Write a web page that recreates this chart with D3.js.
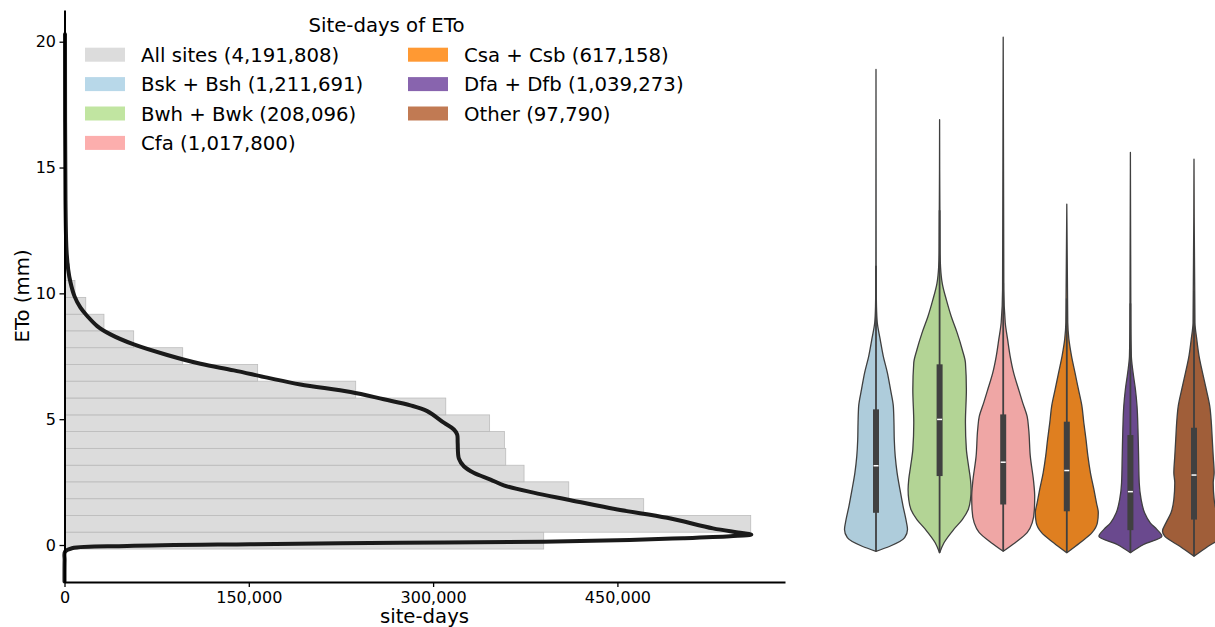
<!DOCTYPE html>
<html>
<head>
<meta charset="utf-8">
<script src="https://cdn.jsdelivr.net/npm/d3@7"></script>
<style>
  body { margin: 0; background: #fff; }
  svg { font-family: "DejaVu Sans", sans-serif; }
</style>
</head>
<body>
<div id="chart"></div>
<script>
/* histogram of all site-days: bin edges (mm) and counts */
var binLo = [-0.16, 0.51, 1.17, 1.84, 2.51, 3.17, 3.84, 4.51, 5.17, 5.84,
             6.51, 7.17, 7.84, 8.51, 9.17, 9.84, 10.51, 11.17, 11.84, 12.51,
             13.17, 13.84, 14.51, 15.17, 15.84, 16.51, 17.17, 17.84, 18.51, 19.17];
var binHi = [0.51, 1.17, 1.84, 2.51, 3.17, 3.84, 4.51, 5.17, 5.84, 6.51,
             7.17, 7.84, 8.51, 9.17, 9.84, 10.51, 11.17, 11.84, 12.51, 13.17,
             13.84, 14.51, 15.17, 15.84, 16.51, 17.17, 17.84, 18.51, 19.17, 19.84];
var binCounts = [390000, 558500, 471400, 410400, 374000, 359100, 358000, 346000, 310300, 237000,
                 157200, 96200, 56300, 32100, 17300, 8500, 4000, 1800, 800, 400,
                 200, 100, 60, 30, 20, 10, 5, 3, 2, 1];

/* black outline curve over the histogram */
var curveEto = [-1.45, -0.6, -0.27, -0.13, -0.04, 0.03, 0.09, 0.13, 0.20, 0.27, 0.35, 0.41,
                0.50, 0.66, 1.08, 1.41, 1.81, 2.08, 2.37, 2.60, 2.87, 3.13, 3.43, 4.06, 4.39,
                4.59, 4.86, 5.32, 5.55, 5.79, 6.08, 6.38, 6.65, 6.94, 7.20, 7.55, 7.97, 8.37,
                8.70, 9.10, 9.43, 9.89, 10.43, 10.95, 11.75, 13.7, 20.3];
var curveCount = [0, 100, 400, 6100, 51000, 151000, 273000, 389500, 460000, 503600, 541800, 559000,
                  548000, 527800, 490500, 450000, 409000, 381700, 357500, 346700, 333000, 325000, 321000, 320000, 319600,
                  316900, 308700, 295200, 281600, 259900, 232800, 192000, 165000, 137800, 110700, 83600, 56400, 37400,
                  26600, 18500, 13000, 8100, 4900, 3000, 1600, 800, 400];

/* climate groups */
var groups = ["Bsk + Bsh", "Bwh + Bwk", "Cfa", "Csa + Csb", "Dfa + Dfb", "Other"];
var groupCounts = [1211691, 208096, 1017800, 617158, 1039273, 97790];
var allSitesCount = 4191808;

/* violin shapes: ETo (mm) and relative half width */
var densityEto = [
  [-0.25, -0.05, 0.29, 0.62, 0.88, 1.54, 2.21, 2.87, 3.53, 4.19, 4.86, 5.52, 6.18, 6.85, 7.51, 8.19, 8.84, 9.49, 10.56, 18.9],
  [-0.31, 0.09, 0.62, 1.01, 1.41, 1.81, 2.21, 2.60, 3.13, 3.80, 4.86, 6.18, 7.24, 7.76, 8.42, 9.08, 9.72, 10.39, 11.05, 11.71, 16.9],
  [-0.25, 0.09, 0.49, 0.88, 1.41, 1.94, 2.47, 3.53, 4.59, 5.11, 5.65, 6.18, 6.85, 7.51, 8.17, 8.84, 10.17, 20.18],
  [-0.31, 0.09, 0.49, 0.88, 1.28, 1.68, 2.21, 2.87, 3.53, 4.19, 4.86, 5.52, 6.18, 6.85, 7.51, 8.19, 8.84, 13.54],
  [-0.31, 0.02, 0.35, 0.62, 0.88, 1.28, 1.81, 2.47, 3.53, 4.59, 5.52, 6.18, 6.85, 7.51, 8.84, 15.6],
  [-0.45, -0.05, 0.35, 0.55, 0.88, 1.28, 1.81, 2.47, 2.87, 3.53, 4.19, 4.86, 5.52, 6.18, 6.85, 7.51, 8.19, 8.84, 15.33]
];
var densityWidth = [
  [0, 0.44, 0.91, 1.0, 0.97, 0.86, 0.76, 0.67, 0.61, 0.58, 0.57, 0.55, 0.46, 0.36, 0.23, 0.13, 0.04, 0.015, 0.005, 0],
  [0, 0.14, 0.45, 0.72, 0.91, 0.98, 1.0, 0.98, 0.92, 0.85, 0.82, 0.85, 0.82, 0.72, 0.56, 0.37, 0.22, 0.085, 0.03, 0.015, 0],
  [0, 0.38, 0.76, 0.92, 0.99, 1.0, 0.97, 0.86, 0.81, 0.76, 0.62, 0.49, 0.33, 0.22, 0.14, 0.064, 0.02, 0],
  [0, 0.42, 0.80, 0.97, 1.0, 0.94, 0.86, 0.75, 0.67, 0.61, 0.54, 0.48, 0.37, 0.26, 0.15, 0.065, 0.03, 0],
  [0, 0.42, 1.0, 0.84, 0.63, 0.45, 0.34, 0.28, 0.26, 0.24, 0.21, 0.16, 0.085, 0.03, 0.015, 0],
  [0, 0.45, 0.93, 1.0, 0.89, 0.73, 0.64, 0.61, 0.64, 0.61, 0.58, 0.55, 0.50, 0.39, 0.27, 0.16, 0.086, 0.03, 0]
];

/* box statistics per group */
var mins    = [-0.25, -0.31, -0.25, -0.31, -0.31, -0.45];
var q1s     = [1.28, 2.74, 1.61, 1.34, 0.59, 1.01];
var medians = [3.15, 4.99, 3.29, 2.96, 2.12, 2.78];
var q3s     = [5.39, 7.18, 5.19, 4.90, 4.37, 4.66];
var whiskHi = [11.1, 13.3, 10.4, 9.8, 9.6, 10.1];

var xTicks = [0, 150000, 300000, 450000];
var yTicks = [0, 5, 10, 15, 20];

var palette = ["#a6cee3", "#b2df8a", "#fb9a99", "#ff7f00", "#6a3d9a", "#b15928"];

var W = 1215, H = 627;
var svg = d3.select("#chart").append("svg")
    .attr("width", W).attr("height", H);

var fmt = d3.format(",");

/* scales */
var y = d3.scaleLinear().domain([-1.47, 21.26]).range([582, 10]);
var x = d3.scaleLinear().domain([0, 586400]).range([64.5, 785]);

/* histogram bars */
svg.append("g").selectAll("rect")
    .data(binCounts)
    .join("rect")
    .attr("x", x(0))
    .attr("y", function(d, i) { return y(binHi[i]); })
    .attr("width", function(d) { return x(d) - x(0); })
    .attr("height", function(d, i) { return y(binLo[i]) - y(binHi[i]); })
    .attr("fill", "#d3d3d3")
    .attr("fill-opacity", 0.8)
    .attr("stroke", "#bcbcbc")
    .attr("stroke-width", 0.8);

/* outline curve */
var curvePts = curveEto.map(function(e, i) { return [curveCount[i], e]; });
svg.append("path")
    .datum(curvePts)
    .attr("fill", "none")
    .attr("stroke", "#1a1a1a")
    .attr("stroke-width", 4)
    .attr("stroke-linejoin", "round")
    .attr("stroke-linecap", "round")
    .attr("d", d3.line()
        .x(function(d) { return x(d[0]); })
        .y(function(d) { return y(d[1]); })
        .curve(d3.curveCatmullRom.alpha(0.5)));

/* axes */
var yAxis = svg.append("g")
    .attr("transform", "translate(64.5,0)")
    .call(d3.axisLeft(y).tickValues(yTicks).tickSize(5).tickSizeOuter(0).tickPadding(3.5));
var xAxis = svg.append("g")
    .attr("transform", "translate(0,582)")
    .call(d3.axisBottom(x).tickValues(xTicks).tickFormat(fmt).tickSize(5).tickSizeOuter(0).tickPadding(5));
[yAxis, xAxis].forEach(function(a) {
    a.attr("font-family", null).attr("font-size", null);
    a.select(".domain").attr("stroke", "#000").attr("stroke-width", 2);
    a.selectAll(".tick line").attr("stroke", "#000").attr("stroke-width", 1.3);
    a.selectAll(".tick text").attr("fill", "#000").style("font-size", "16px");
});

svg.append("text")
    .attr("transform", "translate(29,296) rotate(-90)")
    .attr("text-anchor", "middle")
    .style("font-size", "19.7px")
    .text("ETo (mm)");

svg.append("text")
    .attr("x", 424.5).attr("y", 623)
    .attr("text-anchor", "middle")
    .style("font-size", "19.7px")
    .text("site-days");

/* legend */
var legend = svg.append("g");
legend.append("text")
    .attr("x", 386.5).attr("y", 32)
    .attr("text-anchor", "middle")
    .style("font-size", "19.7px")
    .text("Site-days of ETo");

var legendLabels = ["All sites (" + fmt(allSitesCount) + ")"].concat(
    groups.map(function(g, i) { return g + " (" + fmt(groupCounts[i]) + ")"; }));
var legendColors = ["#d3d3d3"].concat(palette);

legendLabels.forEach(function(lab, i) {
    var col = i < 4 ? 0 : 1;
    var row = i < 4 ? i : i - 4;
    var bx = col === 0 ? 85 : 408;
    var cy = 54.7 + row * 29.4;
    legend.append("rect")
        .attr("x", bx).attr("y", cy - 7)
        .attr("width", 40).attr("height", 14)
        .attr("fill", legendColors[i])
        .attr("fill-opacity", 0.8);
    legend.append("text")
        .attr("x", bx + 56).attr("y", cy + 7.2)
        .style("font-size", "19.7px")
        .text(lab);
});

/* violins */
var vx = d3.scalePoint().domain(groups).range([876, 1194]);
var halfW = 31.5;

groups.forEach(function(g, i) {
    var cx = vx(g);
    var fill = d3.hsl(palette[i]);
    fill.s *= 0.75;
    var pts = densityEto[i].map(function(e, k) { return {e: e, w: densityWidth[i][k]}; }).reverse();
    var area = d3.area()
        .curve(d3.curveMonotoneY)
        .y(function(d) { return y(d.e); })
        .x0(function(d) { return cx - d.w * halfW; })
        .x1(function(d) { return cx + d.w * halfW; });
    var vg = svg.append("g");
    vg.append("path")
        .datum(pts)
        .attr("d", area)
        .attr("fill", fill.formatHex())
        .attr("stroke", "#3f3f3f")
        .attr("stroke-width", 1.3)
        .attr("stroke-linejoin", "round");
    vg.append("line")
        .attr("x1", cx).attr("x2", cx)
        .attr("y1", y(mins[i])).attr("y2", y(whiskHi[i]))
        .attr("stroke", "#404040")
        .attr("stroke-width", 1.8);
    vg.append("rect")
        .attr("x", cx - 3).attr("width", 6)
        .attr("y", y(q3s[i])).attr("height", y(q1s[i]) - y(q3s[i]))
        .attr("fill", "#404040");
    vg.append("line")
        .attr("x1", cx - 2.5).attr("x2", cx + 2.5)
        .attr("y1", y(medians[i])).attr("y2", y(medians[i]))
        .attr("stroke", "#fff")
        .attr("stroke-width", 1.5);
});
</script>
</body>
</html>
